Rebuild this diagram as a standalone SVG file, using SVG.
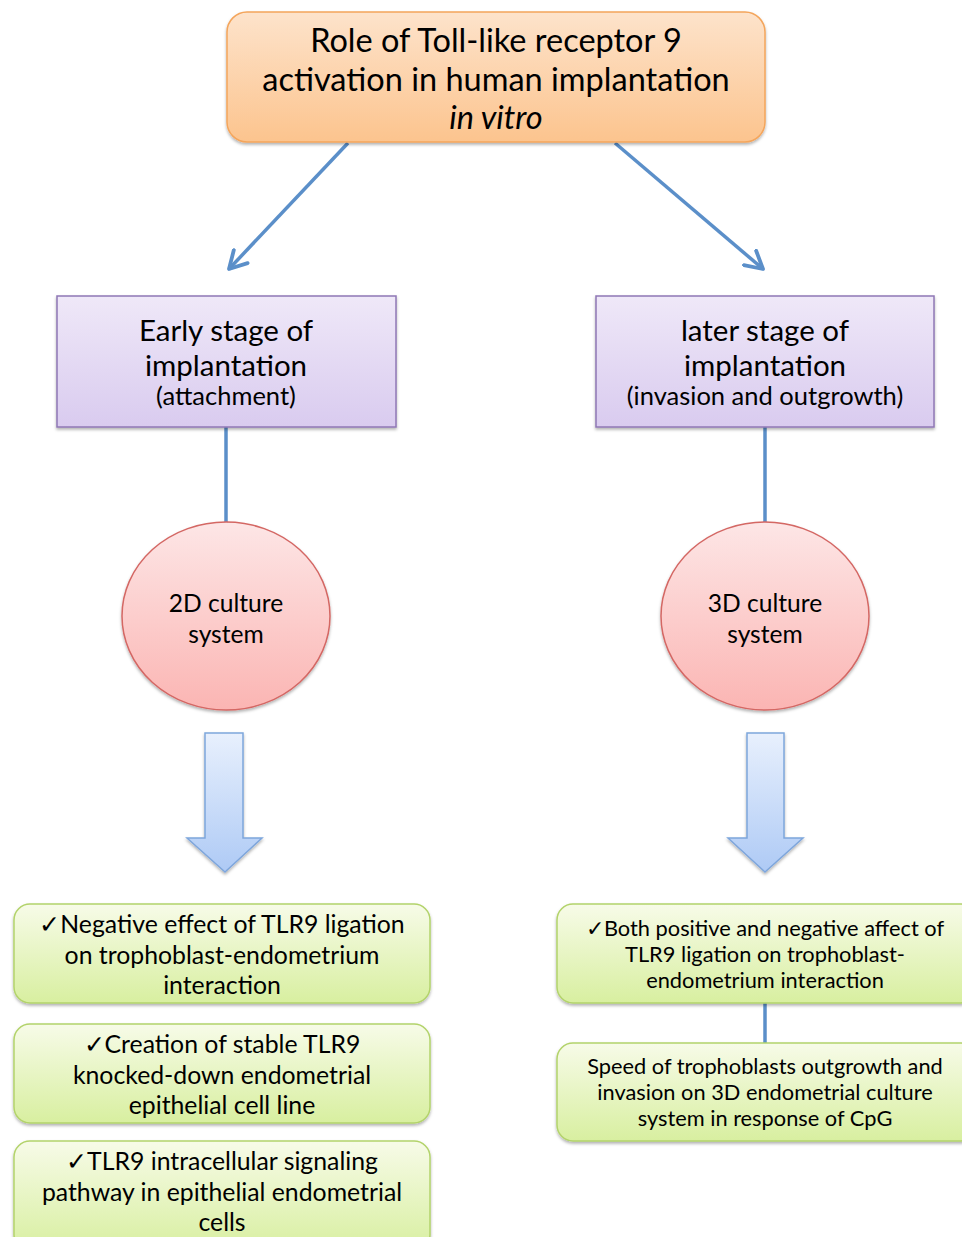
<svg xmlns="http://www.w3.org/2000/svg" width="962" height="1237" viewBox="0 0 962 1237">
  <defs>
    <linearGradient id="gOrange" x1="0" y1="0" x2="0" y2="1">
      <stop offset="0" stop-color="#fde3cb"/>
      <stop offset="1" stop-color="#fcc48e"/>
    </linearGradient>
    <linearGradient id="gPurple" x1="0" y1="0" x2="0" y2="1">
      <stop offset="0" stop-color="#efe8f8"/>
      <stop offset="1" stop-color="#d9cbef"/>
    </linearGradient>
    <linearGradient id="gPink" x1="0" y1="0" x2="0" y2="1">
      <stop offset="0" stop-color="#fde6e6"/>
      <stop offset="1" stop-color="#fbb5b3"/>
    </linearGradient>
    <linearGradient id="gBlue" x1="0" y1="0" x2="0" y2="1">
      <stop offset="0" stop-color="#e8f0fd"/>
      <stop offset="1" stop-color="#aecaf5"/>
    </linearGradient>
    <linearGradient id="gGreen" x1="0" y1="0" x2="0" y2="1">
      <stop offset="0" stop-color="#f7fbe8"/>
      <stop offset="1" stop-color="#d8efa0"/>
    </linearGradient>
    <filter id="shadow" x="-10%" y="-10%" width="120%" height="130%">
      <feDropShadow dx="0" dy="2" stdDeviation="1.5" flood-color="#000" flood-opacity="0.3"/>
    </filter>
    <marker id="openArrow" viewBox="0 0 12 12" refX="10" refY="6" markerWidth="6.5" markerHeight="6.5" orient="auto" markerUnits="strokeWidth">
      <path d="M1,1 L10,6 L1,11" fill="none" stroke="#5b8fc9" stroke-width="2" stroke-linecap="round" stroke-linejoin="round"/>
    </marker>
  </defs>
  <style>
    text { font-family: Lato, "Open Sans", "Liberation Sans", sans-serif; fill: #000; text-anchor: middle; }
    .title { font-size: 32.5px; }
    .stage { font-size: 29.5px; }
    .sub { font-size: 25.5px; }
    .circ { font-size: 24.6px; }
    .lbox { font-size: 24.8px; }
    .rbox { font-size: 21.8px; }
    .link { stroke: #5b8fc9; stroke-width: 3.5; fill: none; }
  </style>

  <!-- connectors -->
  <g id="connectors">
    <line class="link" x1="348" y1="143" x2="229" y2="269" marker-end="url(#openArrow)"/>
    <line class="link" x1="615" y1="143" x2="763" y2="269" marker-end="url(#openArrow)"/>
    <line class="link" x1="226" y1="427" x2="226" y2="523"/>
    <line class="link" x1="765" y1="427" x2="765" y2="523"/>
    <line class="link" x1="765" y1="1003" x2="765" y2="1043"/>
    <path d="M205,733 H243 V838 H262 L225,872 L187,838 H205 Z" fill="url(#gBlue)" stroke="#7ea6dc" stroke-width="1.5" filter="url(#shadow)"/>
    <path d="M747,733 H784 V838 H803 L765,872 L728,838 H747 Z" fill="url(#gBlue)" stroke="#7ea6dc" stroke-width="1.5" filter="url(#shadow)"/>
  </g>

  <!-- title -->
  <g id="title">
    <rect x="227" y="12" width="538" height="130" rx="20" fill="url(#gOrange)" stroke="#f4a55b" stroke-width="1.5" filter="url(#shadow)"/>
    <text class="title" x="496" y="52">Role of Toll-like receptor 9</text>
    <text class="title" x="496" y="91">activation in human implantation</text>
    <text class="title" x="496" y="129" font-style="italic">in vitro</text>
  </g>

  <!-- stages -->
  <g id="early-stage">
    <rect x="57" y="296" width="339" height="131" fill="url(#gPurple)" stroke="#8f77b5" stroke-width="1.5" filter="url(#shadow)"/>
    <text class="stage" x="226" y="341">Early stage of</text>
    <text class="stage" x="226" y="376">implantation</text>
    <text class="sub" x="226" y="405">(attachment)</text>
  </g>
  <g id="later-stage">
    <rect x="596" y="296" width="338" height="131" fill="url(#gPurple)" stroke="#8f77b5" stroke-width="1.5" filter="url(#shadow)"/>
    <text class="stage" x="765" y="341">later stage of</text>
    <text class="stage" x="765" y="376">implantation</text>
    <text class="sub" x="765" y="405">(invasion and outgrowth)</text>
  </g>

  <!-- culture systems -->
  <g id="culture-2d">
    <ellipse cx="226" cy="616" rx="104" ry="94" fill="url(#gPink)" stroke="#d46764" stroke-width="1.5" filter="url(#shadow)"/>
    <text class="circ" x="226" y="612">2D culture</text>
    <text class="circ" x="226" y="643">system</text>
  </g>
  <g id="culture-3d">
    <ellipse cx="765" cy="616" rx="104" ry="94" fill="url(#gPink)" stroke="#d46764" stroke-width="1.5" filter="url(#shadow)"/>
    <text class="circ" x="765" y="612">3D culture</text>
    <text class="circ" x="765" y="643">system</text>
  </g>

  <!-- 2D findings -->
  <g id="finding-negative-effect">
    <rect x="14" y="904" width="416" height="99" rx="16" fill="url(#gGreen)" stroke="#b3d36b" stroke-width="1.5" filter="url(#shadow)"/>
    <text class="lbox" x="222" y="933">✓Negative effect of TLR9 ligation</text>
    <text class="lbox" x="222" y="964">on trophoblast-endometrium</text>
    <text class="lbox" x="222" y="994">interaction</text>
  </g>
  <g id="finding-knockdown">
    <rect x="14" y="1024" width="416" height="99" rx="16" fill="url(#gGreen)" stroke="#b3d36b" stroke-width="1.5" filter="url(#shadow)"/>
    <text class="lbox" x="222" y="1053">✓Creation of stable TLR9</text>
    <text class="lbox" x="222" y="1084">knocked-down endometrial</text>
    <text class="lbox" x="222" y="1114">epithelial cell line</text>
  </g>
  <g id="finding-signaling">
    <rect x="14" y="1141" width="416" height="110" rx="16" fill="url(#gGreen)" stroke="#b3d36b" stroke-width="1.5" filter="url(#shadow)"/>
    <text class="lbox" x="222" y="1170">✓TLR9 intracellular signaling</text>
    <text class="lbox" x="222" y="1201">pathway in epithelial endometrial</text>
    <text class="lbox" x="222" y="1231">cells</text>
  </g>

  <!-- 3D findings -->
  <g id="finding-both-effects">
    <rect x="557" y="904" width="420" height="99" rx="16" fill="url(#gGreen)" stroke="#b3d36b" stroke-width="1.5" filter="url(#shadow)"/>
    <text class="rbox" x="765" y="936">✓Both positive and negative affect of</text>
    <text class="rbox" x="765" y="962">TLR9 ligation on trophoblast-</text>
    <text class="rbox" x="765" y="988">endometrium interaction</text>
  </g>
  <g id="finding-speed">
    <rect x="557" y="1043" width="420" height="98" rx="16" fill="url(#gGreen)" stroke="#b3d36b" stroke-width="1.5" filter="url(#shadow)"/>
    <text class="rbox" x="765" y="1074">Speed of trophoblasts outgrowth and</text>
    <text class="rbox" x="765" y="1100">invasion on 3D endometrial culture</text>
    <text class="rbox" x="765" y="1126">system in response of CpG</text>
  </g>
</svg>
